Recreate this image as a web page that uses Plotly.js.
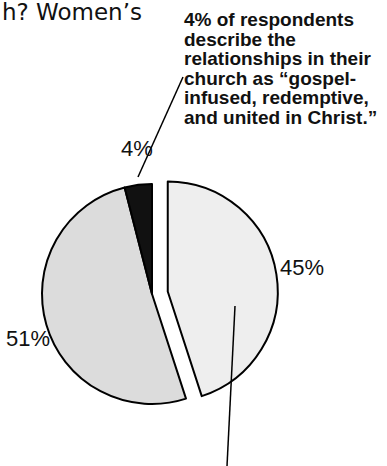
<!DOCTYPE html>
<html><head><meta charset="utf-8">
<script src="https://cdn.plot.ly/plotly-3.0.1.min.js"></script>
<style>html,body{margin:0;padding:0;background:#fff}</style>
</head><body><div id="chart" style="width:387px;height:466px"></div>
<script>
// ---- data ----
const categories = ['Response A', 'Response B', 'Gospel-infused, redemptive, and united in Christ'];
const values = [45, 51, 4];
const sliceColors = ['#eeeeee', '#dcdcdc', '#111111'];
const pulls = [0.145, 0, 0];
const titleText = 'h? Women\u2019s';
const calloutLines = [
  '4% of respondents',
  'describe the',
  'relationships in their',
  'church as \u201cgospel-',
  'infused, redemptive,',
  'and united in Christ.\u201d'
];

// ---- helpers (pixel -> paper) ----
const W = 387, H = 466;
const px = x => x / W;
const py = y => 1 - y / H;

const cx = 152, cy = 294, r = 110;
const half = r * (1 + Math.max(...pulls));

const labelFont = {family: 'Liberation Sans, Arial, sans-serif', size: 22, color: '#111'};
// label anchor points (pixel positions of each slice's percent label)
const labelPos = [[302, 267], [28, 338], [137, 148]];

const trace = {
  type: 'pie',
  labels: categories,
  values: values,
  textinfo: 'none',
  sort: false,
  direction: 'clockwise',
  rotation: 0,
  pull: pulls,
  marker: {colors: sliceColors, line: {color: '#000', width: 2}},
  domain: {x: [px(cx - half), px(cx + half)], y: [py(cy + half), py(cy - half)]},
  automargin: false,
  hoverinfo: 'none'
};

const annotations = [];
annotations.push({
  xref: 'paper', yref: 'paper', x: px(0), y: py(12), xanchor: 'left', yanchor: 'middle',
  text: titleText, showarrow: false,
  font: {family: 'DejaVu Sans, sans-serif', size: 23, color: '#111'}
});
const lineStartY = 20, lineStep = 19.4;
calloutLines.forEach((t, i) => {
  annotations.push({
    xref: 'paper', yref: 'paper', x: px(182), y: py(lineStartY + i * lineStep),
    xanchor: 'left', yanchor: 'middle', text: '<b>' + t + '</b>', showarrow: false,
    font: {family: 'Liberation Sans, Arial, sans-serif', size: 19, color: '#111'}
  });
});
values.forEach((v, i) => {
  annotations.push({
    xref: 'paper', yref: 'paper', x: px(labelPos[i][0]), y: py(labelPos[i][1]),
    xanchor: 'center', yanchor: 'middle', text: v + '%', showarrow: false, font: labelFont
  });
});

const shapes = [
  {type: 'line', xref: 'paper', yref: 'paper', x0: px(138), y0: py(177), x1: px(183), y1: py(77), line: {color: '#000', width: 1.5}},
  {type: 'line', xref: 'paper', yref: 'paper', x0: px(235), y0: py(306), x1: px(227), y1: py(466), line: {color: '#000', width: 1.5}}
];

const layout = {
  width: W, height: H,
  margin: {l: 0, r: 0, t: 0, b: 0},
  paper_bgcolor: '#fff', plot_bgcolor: '#fff',
  showlegend: false,
  annotations: annotations,
  shapes: shapes
};

Plotly.newPlot('chart', [trace], layout, {displayModeBar: false, staticPlot: true});
</script></body></html>
